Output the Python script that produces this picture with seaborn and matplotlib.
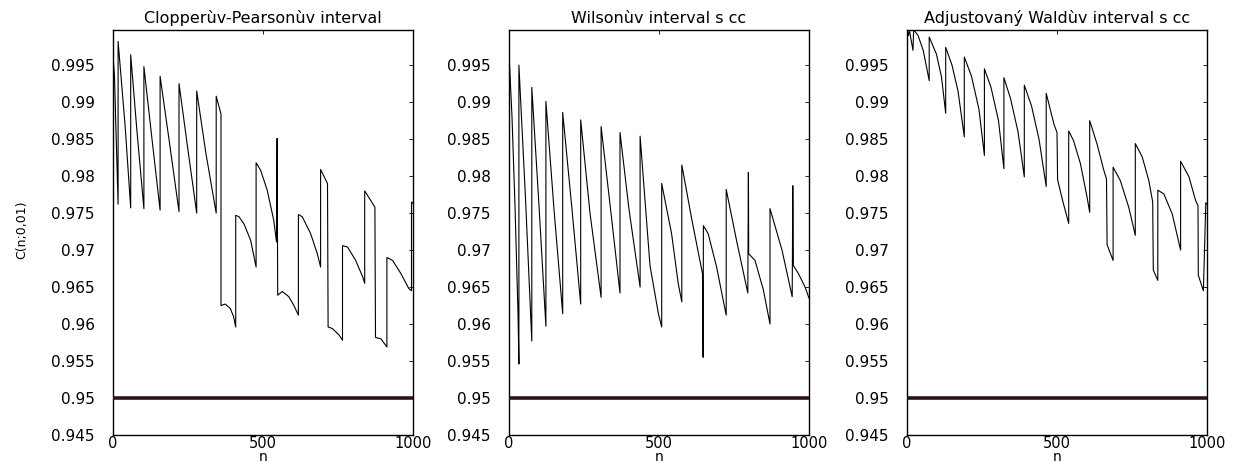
import numpy as np
import pandas as pd
import seaborn as sns
import matplotlib
matplotlib.use('Agg')
import matplotlib.pyplot as plt

# coverage C(n;0,01) (vertices of the sawtooth)
cp_n = [1, 5, 10, 17, 17, 40, 59, 59, 80, 103, 103, 130, 157, 157, 190, 220, 220,
        250, 279, 279, 310, 344, 344, 360, 360, 374, 391, 402, 409, 409, 420, 437,
        459, 477, 477, 492, 514, 536, 545, 547, 549, 564, 586, 603, 618, 618, 631,
        659, 681, 692, 692, 715, 717, 731, 754, 765, 765, 782, 809, 832, 839, 839,
        873, 875, 893, 913, 913, 932, 960, 986, 995, 995, 1000]
cp_cov = [0.9957, 0.9935, 0.9860, 0.9762, 0.9982, 0.9870, 0.9757, 0.9964, 0.9860,
          0.9756, 0.9948, 0.9850, 0.9754, 0.9935, 0.9840, 0.9752, 0.9925, 0.9835,
          0.9750, 0.9915, 0.9830, 0.9750, 0.9908, 0.9884, 0.9625, 0.9627, 0.9621,
          0.9610, 0.9596, 0.9747, 0.9745, 0.9735, 0.9713, 0.9677, 0.9818, 0.9808,
          0.9781, 0.9740, 0.9711, 0.9851, 0.9639, 0.9644, 0.9637, 0.9625, 0.9612,
          0.9748, 0.9745, 0.9722, 0.9695, 0.9677, 0.9809, 0.9790, 0.9596, 0.9594,
          0.9585, 0.9578, 0.9706, 0.9704, 0.9686, 0.9664, 0.9655, 0.9780, 0.9758,
          0.9582, 0.9580, 0.9569, 0.9690, 0.9686, 0.9668, 0.9648, 0.9645, 0.9765,
          0.9763]

wil_n = [1, 10, 20, 30, 33, 33, 55, 76, 76, 100, 123, 123, 150, 179, 179, 210, 239,
         239, 270, 307, 307, 340, 370, 370, 400, 437, 437, 470, 498, 509, 509, 542,
         564, 576, 576, 610, 645, 647, 648, 664, 692, 724, 724, 760, 796, 798, 799,
         820, 848, 870, 870, 910, 944, 946, 948, 965, 987, 1000]
wil_cov = [0.9957, 0.9880, 0.9760, 0.9615, 0.9546, 0.9950, 0.9770, 0.9577, 0.9920,
           0.9760, 0.9597, 0.9901, 0.9755, 0.9614, 0.9886, 0.9755, 0.9627, 0.9876,
           0.9750, 0.9636, 0.9867, 0.9750, 0.9642, 0.9859, 0.9755, 0.9650, 0.9854,
           0.9679, 0.9614, 0.9596, 0.9790, 0.9722, 0.9655, 0.9630, 0.9815, 0.9740,
           0.9668, 0.9555, 0.9733, 0.9722, 0.9677, 0.9612, 0.9782, 0.9710, 0.9642,
           0.9805, 0.9695, 0.9686, 0.9646, 0.9600, 0.9756, 0.9700, 0.9637, 0.9787,
           0.9679, 0.9668, 0.9650, 0.9635]

wald_n = [1, 5, 8, 20, 22, 37, 54, 74, 74, 98, 115, 129, 129, 150, 170, 191, 191,
          215, 240, 258, 258, 280, 305, 323, 323, 345, 370, 391, 391, 415, 440, 464,
          464, 490, 500, 502, 520, 539, 539, 555, 578, 600, 609, 609, 633, 656, 665,
          667, 687, 687, 711, 739, 761, 761, 784, 806, 819, 821, 836, 836, 856, 884,
          912, 912, 940, 962, 970, 971, 988, 996, 1000]
wald_cov = [0.9997, 0.9990, 0.9997, 0.9970, 0.9998, 0.9990, 0.9970, 0.9929, 0.9988,
            0.9965, 0.9934, 0.9885, 0.9974, 0.9950, 0.9915, 0.9853, 0.9961, 0.9935,
            0.9890, 0.9828, 0.9945, 0.9920, 0.9875, 0.9810, 0.9933, 0.9905, 0.9860,
            0.9799, 0.9923, 0.9895, 0.9850, 0.9786, 0.9912, 0.9870, 0.9859, 0.9795,
            0.9765, 0.9736, 0.9861, 0.9848, 0.9817, 0.9772, 0.9751, 0.9875, 0.9844,
            0.9808, 0.9796, 0.9707, 0.9686, 0.9812, 0.9794, 0.9758, 0.9720, 0.9844,
            0.9826, 0.9794, 0.9765, 0.9673, 0.9659, 0.9781, 0.9776, 0.9749, 0.9700,
            0.9820, 0.9799, 0.9767, 0.9760, 0.9666, 0.9645, 0.9764, 0.9762]

titles = ['Clopperùv-Pearsonùv interval', 'Wilsonùv interval s cc',
          'Adjustovaný Waldùv interval s cc']
nominal = 0.95
y_ticks = [0.945, 0.95, 0.955, 0.96, 0.965, 0.97, 0.975, 0.98, 0.985, 0.99, 0.995]
y_ticklabels = ['0.945', '0.95', '0.955', '0.96', '0.965', '0.97', '0.975',
                '0.98', '0.985', '0.99', '0.995']
x_ticks = [0, 500, 1000]

sns.set_style('white')
plt.rcParams['font.family'] = ['DejaVu Sans']
plt.rcParams['text.color'] = 'black'
plt.rcParams['axes.labelcolor'] = 'black'

fig = plt.figure(figsize=(12.34, 4.65), dpi=100)
lefts = [113 / 1234, 509 / 1234, 907 / 1234]
panels = [(cp_n, cp_cov), (wil_n, wil_cov), (wald_n, wald_cov)]

for left, (n, cov), title in zip(lefts, panels, titles):
    ax = fig.add_axes([left, 1 - 435 / 465, 300 / 1234, 405 / 465])
    df = pd.DataFrame({'n': n, 'C': cov})
    sns.lineplot(data=df, x='n', y='C', sort=False, estimator=None,
                 color='black', lw=0.8, ax=ax)
    ax.axhline(nominal, color='#2b1414', lw=2.6, zorder=3)
    ax.set_xlim(0, 1000)
    ax.set_ylim(0.945, 0.99975)
    ax.set_xticks(x_ticks)
    ax.set_yticks(y_ticks)
    ax.set_yticklabels(y_ticklabels)
    ax.tick_params(direction='in', top=True, right=True, length=3, width=0.6,
                   labelsize=11, colors='black')
    ax.tick_params(axis='y', pad=13)
    ax.tick_params(axis='x', pad=1, labelsize=10.5)
    for s in ax.spines.values():
        s.set_color('black')
        s.set_linewidth(1.0)
    ax.set_xlabel('n', fontsize=10, labelpad=-1)
    ax.set_ylabel('')
    ax.set_title(title, fontsize=11.5, pad=5, color='black')

fig.text(22 / 1234, 1 - 230 / 465, 'C(n;0,01)', rotation=90, fontsize=9,
         ha='center', va='center')

fig.savefig('out.png', dpi=100)
